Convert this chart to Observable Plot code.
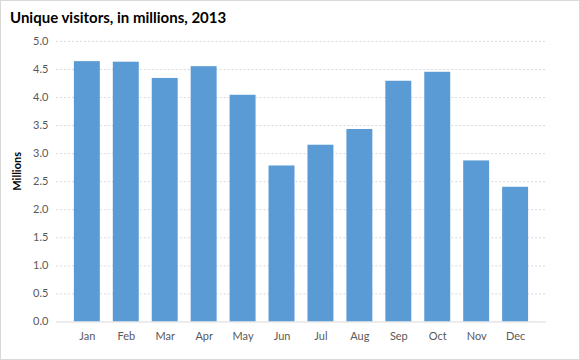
<!DOCTYPE html>
<html>
<head>
<meta charset="utf-8">
<script src="https://cdn.jsdelivr.net/npm/d3@7"></script>
<script src="https://cdn.jsdelivr.net/npm/@observablehq/plot@0.6"></script>
<style>
  body { margin: 0; background: #fff; }
  #wrap { position: relative; width: 580px; height: 360px; box-sizing: border-box; border: 1px solid #d9d9d9; overflow: hidden; }
  #title { position: absolute; left: 9px; top: 7px; font: bold 15px Lato, sans-serif; color: #000; white-space: nowrap; }
  #chart { position: absolute; left: -1px; top: -1px; }
</style>
</head>
<body>
<div id="wrap">
  <div id="title">Unique visitors, in millions, 2013</div>
  <div id="chart"></div>
</div>
<script>
const months = ["Jan","Feb","Mar","Apr","May","Jun","Jul","Aug","Sep","Oct","Nov","Dec"];
const visitors = [4.64, 4.63, 4.34, 4.55, 4.04, 2.78, 3.15, 3.43, 4.29, 4.45, 2.87, 2.40];
const yTicks = [0, 0.5, 1.0, 1.5, 2.0, 2.5, 3.0, 3.5, 4.0, 4.5, 5.0];
const gridTicks = [0.5, 1.0, 1.5, 2.0, 2.5, 3.0, 3.5, 4.0, 4.5, 5.0];

const data = months.map((m, i) => ({month: m, value: visitors[i]}));

const chart = Plot.plot({
  width: 580,
  height: 360,
  marginTop: 41,
  marginBottom: 38,
  marginLeft: 56,
  marginRight: 33,
  style: { fontFamily: "Lato, sans-serif", fontSize: "11px", color: "#595959", background: "transparent" },
  x: { domain: months, padding: 0.34, label: null, tickSize: 0, tickPadding: 10 },
  y: { domain: [0, 5], ticks: yTicks, tickFormat: d => d.toFixed(1), tickSize: 0, tickPadding: 8, label: null },
  marks: [
    Plot.ruleY(gridTicks, { stroke: "#d9d9d9", strokeDasharray: "2,2", strokeWidth: 1 }),
    Plot.barY(data, { x: "month", y: "value", fill: "#5b9bd5" }),
    Plot.ruleY([0], { stroke: "#d9d9d9", strokeWidth: 1 }),
    Plot.text(["Millions"], { frameAnchor: "left", dx: -39, dy: 9, rotate: -90, text: d => d, fontWeight: "bold", fill: "#000", fontSize: 11 })
  ]
});
document.getElementById("chart").appendChild(chart);
</script>
</body>
</html>
